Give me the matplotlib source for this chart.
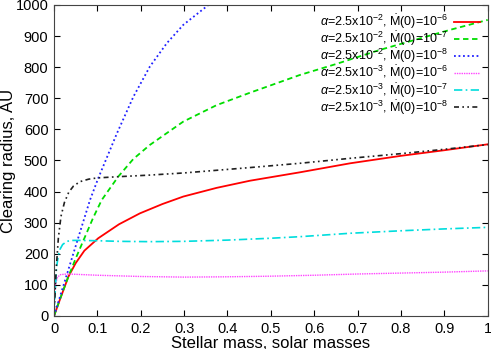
import matplotlib
matplotlib.use("Agg")
import matplotlib.pyplot as plt

plt.rcParams['font.family'] = ['Liberation Sans', 'DejaVu Sans']
plt.rcParams['mathtext.fontset'] = 'custom'
plt.rcParams['mathtext.rm'] = 'Liberation Sans'
plt.rcParams['mathtext.it'] = 'Liberation Sans:italic'

# stellar mass (solar masses) vs clearing radius (AU)
m_red = [0, 0.015, 0.033, 0.05, 0.07, 0.102, 0.15, 0.198, 0.25, 0.298, 0.375, 0.452,
         0.567, 0.683, 0.8, 0.9, 1.0]
r_red = [0, 58, 126, 170, 210, 250, 295, 330, 360, 384, 412, 435,
         462, 491, 515, 533, 552]
m_green = [0, 0.02, 0.033, 0.05, 0.07, 0.09, 0.11, 0.148, 0.183, 0.221, 0.298, 0.375,
           0.452, 0.567, 0.65, 0.75, 0.85, 0.913, 1.0]
r_green = [0, 78, 126, 185, 250, 315, 373, 448, 505, 550, 625, 678,
           718, 775, 810, 855, 895, 920, 952]
m_blue = [0, 0.02, 0.04, 0.06, 0.083, 0.102, 0.145, 0.183, 0.221, 0.26, 0.298, 0.356]
r_blue = [0, 90, 180, 270, 373, 443, 587, 705, 802, 877, 936, 1000]
m_mag = [0, 0.001, 0.003, 0.008, 0.015, 0.03, 0.05, 0.1, 0.2, 0.3, 0.4, 0.5,
         0.6, 0.7, 0.8, 0.9, 1.0]
r_mag = [0, 60, 100, 125, 133, 135, 134, 131, 127, 125, 126, 128,
         131, 135, 138, 141, 145]
m_cyan = [0, 0.002, 0.006, 0.01, 0.014, 0.02, 0.03, 0.04, 0.06, 0.1, 0.15, 0.22,
          0.3, 0.4, 0.5, 0.567, 0.683, 0.8, 0.9, 1.0]
r_cyan = [0, 60, 158, 195, 215, 230, 240, 243, 243, 242, 240, 239,
          240, 244, 250, 255, 266, 274, 280, 285]
m_black = [0, 0.002, 0.005, 0.01, 0.016, 0.024, 0.034, 0.045, 0.06, 0.08, 0.1, 0.15, 0.22,
           0.3, 0.45, 0.567, 0.683, 0.8, 0.9, 1.0]
r_black = [0, 60, 150, 250, 320, 365, 398, 418, 432, 440, 444, 448, 453,
           460, 477, 491, 507, 522, 536, 551]

labels = [r'$\alpha$=2.5x10$^{-2}$, $\dot{\rm M}$(0)=10$^{-6}$',
          r'$\alpha$=2.5x10$^{-2}$, $\dot{\rm M}$(0)=10$^{-7}$',
          r'$\alpha$=2.5x10$^{-2}$, $\dot{\rm M}$(0)=10$^{-8}$',
          r'$\alpha$=2.5x10$^{-3}$, $\dot{\rm M}$(0)=10$^{-6}$',
          r'$\alpha$=2.5x10$^{-3}$, $\dot{\rm M}$(0)=10$^{-7}$',
          r'$\alpha$=2.5x10$^{-3}$, $\dot{\rm M}$(0)=10$^{-8}$']

fig = plt.figure(figsize=(4.91, 3.49), dpi=100)
ax = fig.add_axes([0.110, 0.0946, 0.8833, 0.8911])

ax.plot(m_red, r_red, color='#ff0000', lw=1.3, ls='-', label=labels[0])
ax.plot(m_green, r_green, color='#00dd00', lw=1.3, ls=(0, (3, 2)), label=labels[1])
ax.plot(m_blue, r_blue, color='#2020ff', lw=1.3, ls=(0, (1, 1.5)), label=labels[2])
ax.plot(m_mag, r_mag, color='#ff44ff', lw=1.0, ls=(0, (1, 0.7)), label=labels[3])
ax.plot(m_cyan, r_cyan, color='#00dddd', lw=1.2, ls=(0, (5, 2, 1, 2)), label=labels[4])
ax.plot(m_black, r_black, color='#202020', lw=1.2, ls=(0, (3, 2, 1, 2, 1, 2)), label=labels[5])

ax.set_xlim(0, 1)
ax.set_ylim(0, 1000)
ax.set_xticks([0, 0.1, 0.2, 0.3, 0.4, 0.5, 0.6, 0.7, 0.8, 0.9, 1])
ax.set_xticklabels(['0', '0.1', '0.2', '0.3', '0.4', '0.5', '0.6', '0.7', '0.8', '0.9', '1'])
ax.set_yticks(range(0, 1001, 100))
ax.tick_params(direction='in', top=True, right=True, labelsize=10.5, length=4, pad=4)
for s in ax.spines.values():
    s.set_color('#444444')
ax.set_xlabel('Stellar mass, solar masses', fontsize=12, labelpad=0)
ax.set_ylabel('Clearing radius, AU', fontsize=12)
ax.yaxis.set_label_coords(-0.087, 0.5)

leg = ax.legend(loc='upper right', frameon=False, fontsize=9, handlelength=2.1,
                labelspacing=-0.1, borderaxespad=0.2, markerfirst=False, handletextpad=0.5)

fig.savefig('out.png', dpi=100)
